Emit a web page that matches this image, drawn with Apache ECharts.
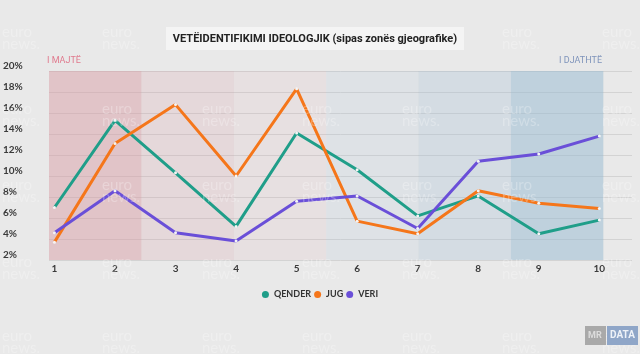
<!DOCTYPE html>
<html>
<head>
<meta charset="utf-8">
<script src="https://cdn.jsdelivr.net/npm/echarts@6/dist/echarts.min.js"></script>
<style>
  html, body { margin: 0; padding: 0; background: #e9e9e9; }
  #chart { width: 640px; height: 354px; }
</style>
</head>
<body>
<div id="chart"></div>
<script>
// zonat 1..10
var zones = [1, 2, 3, 4, 5, 6, 7, 8, 9, 10]
var qender = [7.0, 15.3, 10.3, 5.2, 14.1, 10.6, 6.2, 8.1, 4.5, 5.8]
var jug = [3.7, 13.1, 16.8, 10.0, 18.3, 5.7, 4.5, 8.6, 7.4, 6.9]
var veri = [4.6, 8.6, 4.6, 3.8, 7.6, 8.1, 5.0, 11.4, 12.1, 13.8]
var yTicks = [2, 20, 2] // min, max, step
var bandEdges = [0.91, 2.436, 3.962, 5.488, 7.014, 8.54, 10.066]
var bandColors = ['rgba(214,150,160,0.45)', 'rgba(214,150,160,0.2)', 'rgba(214,150,160,0.1)',
  'rgba(150,185,210,0.12)', 'rgba(150,185,210,0.25)', 'rgba(150,185,210,0.5)']

var chart = echarts.init(document.getElementById('chart'))

function pairs(vals) {
  return zones.map(function (z, i) { return [z, vals[i]] })
}

var bands = []
for (var i = 0; i < 6; i++) {
  bands.push([{ xAxis: bandEdges[i], itemStyle: { color: bandColors[i] } }, { xAxis: bandEdges[i + 1] }])
}

// watermark euronews
var marks = []
var rows = [25, 102, 178, 255, 329]
for (var r = 0; r < rows.length; r++) {
  for (var c = 0; c < 7; c++) {
    marks.push({
      type: 'text', left: 2 + c * 100, top: rows[r], z: 50, silent: true,
      style: { text: 'euro\nnews.', fill: 'rgba(255,255,255,0.27)', font: '15px Lato', lineHeight: 12 }
    })
  }
}

var lineStyleOf = function (name, color, vals) {
  return {
    name: name,
    type: 'line',
    data: pairs(vals),
    symbol: 'circle',
    symbolSize: 3,
    itemStyle: { color: '#f4f4f4' },
    lineStyle: { color: color, width: 3 },
    z: 5
  }
}

var series = [
  lineStyleOf('QENDER', '#1f9e89', qender),
  lineStyleOf('JUG', '#f5761a', jug),
  lineStyleOf('VERI', '#6a4fd8', veri)
]
series[0].markArea = { silent: true, data: bands, z: 1 }

var option = {
  backgroundColor: '#e9e9e9',
  animation: false,
  grid: { left: 46, right: 8, top: 71, bottom: 94 },
  xAxis: {
    type: 'value',
    min: 0.91,
    max: 10.54,
    axisLine: { show: false },
    axisTick: { show: false },
    splitLine: { show: false },
    axisLabel: {
      customValues: zones,
      margin: 4,
      color: '#3a3a3a',
      fontSize: 10,
      fontWeight: 'bold',
      fontFamily: 'Lato'
    }
  },
  yAxis: {
    type: 'value',
    min: yTicks[0],
    max: yTicks[1],
    interval: yTicks[2],
    axisLine: { show: false },
    axisTick: { show: false },
    splitLine: { lineStyle: { color: '#d3d3d3', width: 1 } },
    axisLabel: {
      align: 'left',
      verticalAlign: 'bottom',
      margin: 46,
      color: '#3a3a3a',
      fontSize: 10,
      fontWeight: 'bold',
      fontFamily: 'Lato',
      formatter: '{value}%'
    }
  },
  legend: {
    top: 285,
    left: 'center',
    icon: 'circle',
    itemWidth: 7,
    itemHeight: 7,
    itemGap: 3,
    textStyle: { color: '#333', fontSize: 9, fontWeight: 'bold', fontFamily: 'Lato' },
    data: [
      { name: 'QENDER', itemStyle: { color: '#1f9e89' } },
      { name: 'JUG', itemStyle: { color: '#f5761a' } },
      { name: 'VERI', itemStyle: { color: '#6a4fd8' } }
    ]
  },
  graphic: marks.concat([
    {
      type: 'rect', shape: { x: 166, y: 27, width: 298, height: 23 }, z: 60,
      style: { fill: '#f4f4f4' }
    },
    {
      type: 'text', x: 315, y: 39, z: 61,
      style: { text: 'VETËIDENTIFIKIMI IDEOLOGJIK (sipas zonës gjeografike)', fill: '#222',
        font: 'bold 11px Roboto', align: 'center', verticalAlign: 'middle' }
    },
    {
      type: 'text', left: 47, top: 56, z: 61,
      style: { text: 'I MAJTË', fill: '#e07a8e', font: '9px Roboto' }
    },
    {
      type: 'text', right: 38, top: 56, z: 61,
      style: { text: 'I DJATHTË', fill: '#7f94bb', font: '9px Roboto' }
    },
    {
      type: 'rect', shape: { x: 585, y: 326, width: 21, height: 19 }, z: 61,
      style: { fill: '#a9a9a9' }
    },
    {
      type: 'text', left: 588, top: 331, z: 62,
      style: { text: 'MR', fill: '#dcdcdc', font: 'bold 9px Roboto' }
    },
    {
      type: 'rect', shape: { x: 607, y: 326, width: 31, height: 19 }, z: 61,
      style: { fill: '#8fa6c8' }
    },
    {
      type: 'text', left: 610, top: 330, z: 62,
      style: { text: 'DATA', fill: '#eef2f8', font: 'bold 10px Roboto' }
    }
  ]),
  series: series
}

chart.setOption(option)
</script>
</body>
</html>
